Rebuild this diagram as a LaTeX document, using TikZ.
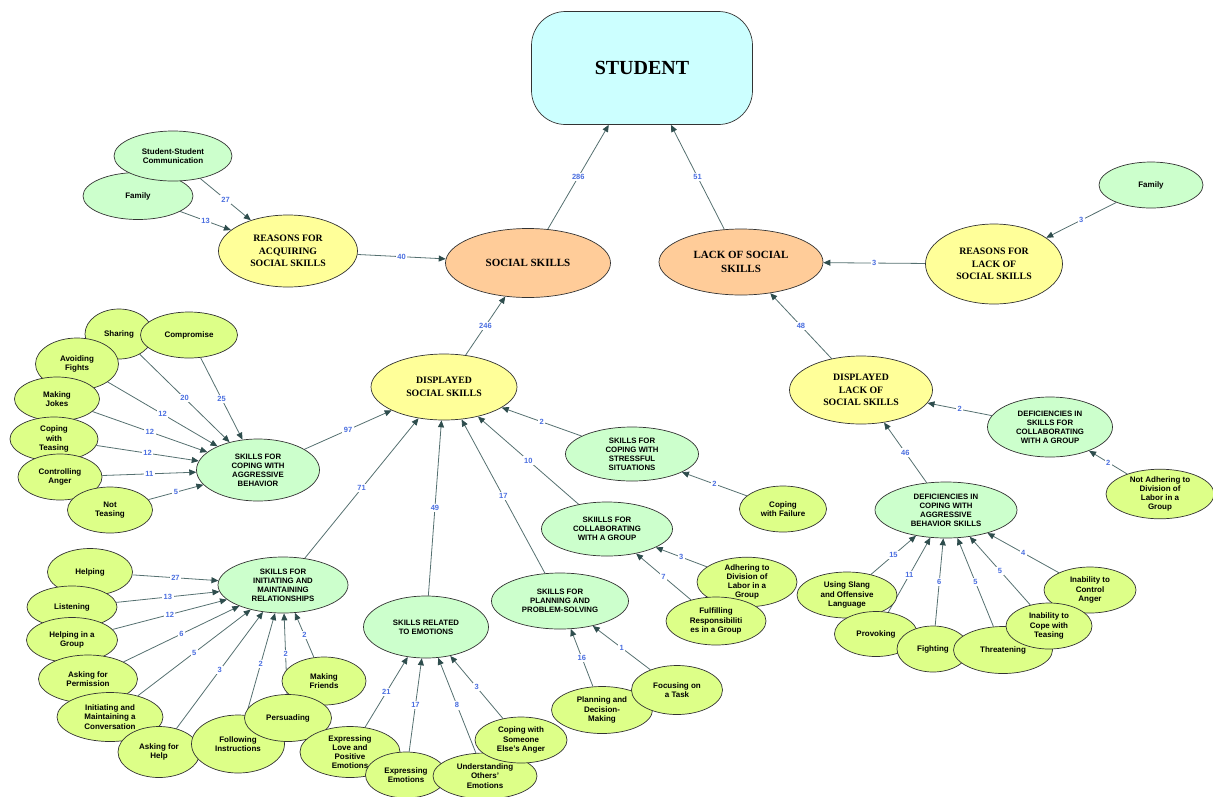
\documentclass[tikz,border=0pt]{standalone}
\usepackage{fontspec}
\setmainfont{Liberation Serif}
\setsansfont{Liberation Sans}
\usepackage{xcolor}
\usetikzlibrary{
    arrows.meta,
    shapes.geometric,
    backgrounds
}
\definecolor{cyanbox}{HTML}{CCFFFF}
\definecolor{hubfill}{HTML}{FFCC99}
\definecolor{midfill}{HTML}{FFFF99}
\definecolor{catfill}{HTML}{CCFFCC}
\definecolor{leaffill}{HTML}{DDFF88}
\definecolor{nodeline}{HTML}{333333}
\definecolor{linkgray}{HTML}{557070}
\definecolor{tipteal}{HTML}{2E4D4D}
\definecolor{numblue}{HTML}{4A6EE0}

\begin{document}
\begin{tikzpicture}[x=1pt, y=-1pt,
    sz/.style 2 args={minimum width=#1pt, minimum height=#2pt},
    bub/.style={ellipse, draw=nodeline, line width=0.7pt, inner sep=0pt, align=center},
    leafnode/.style={bub, fill=leaffill, font=\sffamily\bfseries\fontsize{8}{9.2}\selectfont},
    catnode/.style={bub, fill=catfill, font=\sffamily\bfseries\fontsize{7.8}{9}\selectfont},
    midnode/.style={bub, fill=midfill, font=\rmfamily\bfseries\fontsize{9.8}{12.5}\selectfont},
    hubnode/.style={bub, fill=hubfill, font=\rmfamily\bfseries\fontsize{11}{14}\selectfont},
    num/.style={midway, fill=white, inner sep=1.5pt, text=numblue, font=\sffamily\bfseries\fontsize{7.5}{8}\selectfont},
    conn/.style={draw=linkgray, line width=0.8pt, -{Triangle[length=7pt, width=6pt, color=tipteal]}}
]
\useasboundingbox (0,0) rectangle (1213,796);

% top of the map
\node[draw=nodeline, line width=0.7pt, fill=cyanbox, rounded corners=34pt, sz={221}{113},
      font=\rmfamily\bfseries\fontsize{20}{24}\selectfont] (st) at (642,68) {STUDENT};
\node[hubnode, sz={165}{69}] (ss) at (528,263) {SOCIAL SKILLS};
\node[hubnode, sz={164}{66}] (lss) at (741,262) {LACK OF SOCIAL\\SKILLS};
\node[midnode, sz={139}{72}] (rac) at (288,251) {REASONS FOR\\ACQUIRING\\SOCIAL SKILLS};
\node[catnode, font=\sffamily\bfseries\fontsize{8}{9.2}\selectfont, sz={110}{47}] (faml) at (138,196) {Family};
\node[catnode, font=\sffamily\bfseries\fontsize{8}{9.2}\selectfont, sz={118}{50}] (ssc) at (173,156) {Student-Student\\Communication};
\node[catnode, font=\sffamily\bfseries\fontsize{8}{9.2}\selectfont, sz={104}{46}] (famr) at (1151,185) {Family};
\node[midnode, sz={137}{80}] (rlss) at (994,264) {REASONS FOR\\LACK OF\\SOCIAL SKILLS};
\node[midnode, sz={146}{66}] (dss) at (444,387) {DISPLAYED\\SOCIAL SKILLS};
\node[midnode, sz={143}{68}] (dlss) at (861,390) {DISPLAYED\\LACK OF\\SOCIAL SKILLS};

% coping with aggressive behavior
\node[catnode, sz={123}{62}] (agg) at (258,470) {SKILLS FOR\\COPING WITH\\AGGRESSIVE\\BEHAVIOR};
\node[leafnode, sz={68}{50}] (shar) at (119,334) {Sharing};
\node[leafnode, sz={97}{46}] (comp) at (189,335) {Compromise};
\node[leafnode, sz={83}{52}] (avf) at (77,364) {Avoiding\\Fights};
\node[leafnode, sz={85}{44}] (jok) at (57,399) {Making\\Jokes};
\node[leafnode, sz={88}{44}] (cwt) at (54,439) {Coping\\with\\Teasing};
\node[leafnode, sz={84}{46}] (ctl) at (60,477) {Controlling\\Anger};
\node[leafnode, sz={85}{46}] (ntz) at (110,510) {Not\\Teasing};

% relationships
\node[catnode, sz={130}{56}] (rel) at (283,585) {SKILLS FOR\\INITIATING AND\\MAINTAINING\\RELATIONSHIPS};
\node[leafnode, sz={85}{47}] (hlp) at (90,572) {Helping};
\node[leafnode, sz={90}{42}] (lst) at (72,607) {Listening};
\node[leafnode, sz={91}{45}] (hig) at (72,640) {Helping in a\\Group};
\node[leafnode, sz={99}{48}] (afp) at (88,679) {Asking for\\Permission};
\node[leafnode, sz={106}{49}] (imc) at (110,717) {Initiating and\\Maintaining a\\Conversation};
\node[leafnode, sz={82}{51}] (afh) at (159,752) {Asking for\\Help};
\node[leafnode, sz={93}{58}] (fin) at (238,744) {Following\\Instructions};
\node[leafnode, sz={84}{48}] (mkf) at (324,681) {Making\\Friends};
\node[leafnode, sz={87}{47}] (prs) at (288,718) {Persuading};

% emotions
\node[catnode, sz={125}{62}] (emo) at (426,627) {SKILLS RELATED\\TO EMOTIONS};
\node[leafnode, sz={100}{51}] (elp) at (350,752) {Expressing\\Love and\\Positive\\Emotions};
\node[leafnode, sz={81}{46}] (exe) at (406,775) {Expressing\\Emotions};
\node[leafnode, sz={104}{46}] (uoe) at (485,776) {Understanding\\Others'\\Emotions};
\node[leafnode, sz={92}{46}] (csa) at (521,740) {Coping with\\Someone\\Else's Anger};

% planning
\node[catnode, sz={137}{56}] (pps) at (560,601) {SKILLS FOR\\PLANNING AND\\PROBLEM-SOLVING};
\node[leafnode, sz={101}{47}] (pdm) at (602,710) {Planning and\\Decision-\\Making};
\node[leafnode, sz={91}{49}] (fot) at (677,690) {Focusing on\\a Task};

% collaborating and stress
\node[catnode, sz={133}{54}] (str) at (632,454) {SKILLS FOR\\COPING WITH\\STRESSFUL\\SITUATIONS};
\node[catnode, sz={131}{54}] (col) at (607,529) {SKIILLS FOR\\COLLABORATING\\WITH A GROUP};
\node[leafnode, sz={87}{46}] (cwf) at (783,509) {Coping\\with Failure};
\node[leafnode, sz={100}{48}] (adh) at (747,582) {Adhering to\\Division of\\Labor in a\\Group};
\node[leafnode, sz={100}{48}] (ful) at (716,621) {Fulfilling\\Responsibiliti\\es in a Group};

% lack side
\node[catnode, sz={125}{60}] (dcol) at (1050,427) {DEFICIENCIES IN\\SKILLS FOR\\COLLABORATING\\WITH A GROUP};
\node[leafnode, sz={108}{47}] (nad) at (1160,494) {Not Adhering to\\Division of\\Labor in a\\Group};
\node[catnode, sz={142}{56}] (dagg) at (946,510) {DEFICIENCIES IN\\COPING WITH\\AGGRESSIVE\\BEHAVIOR SKILLS};
\node[leafnode, sz={100}{46}] (usl) at (847,595) {Using Slang\\and Offensive\\Language};
\node[leafnode, sz={83}{45}] (prv) at (876,634) {Provoking};
\node[leafnode, sz={72}{46}] (fgt) at (933,649) {Fighting};
\node[leafnode, sz={99}{47}] (thr) at (1003,650) {Threatening};
\node[leafnode, sz={92}{46}] (ica) at (1090,590) {Inability to\\Control\\Anger};
\node[leafnode, sz={86}{46}] (ict) at (1049,626) {Inability to\\Cope with\\Teasing};

\begin{scope}[on background layer]
\draw
(ss) edge[conn] node[num] {286} (st)
(lss) edge[conn] node[num] {51} (st)
(rac) edge[conn] node[num] {40} (ss)
(ssc) edge[conn] node[num] {27} (rac)
(faml) edge[conn] node[num] {13} (rac)
(rlss) edge[conn] node[num] {3} (lss)
(famr) edge[conn] node[num] {3} (rlss)
(dss) edge[conn] node[num] {246} (ss)
(dlss) edge[conn] node[num] {48} (lss)
(agg) edge[conn] node[num] {97} (dss)
(shar) edge[conn] node[num] {20} (agg)
(comp) edge[conn] node[num] {25} (agg)
(avf) edge[conn] node[num] {12} (agg)
(jok) edge[conn] node[num] {12} (agg)
(cwt) edge[conn] node[num] {12} (agg)
(ctl) edge[conn] node[num] {11} (agg)
(ntz) edge[conn] node[num] {5} (agg)
(rel) edge[conn] node[num] {71} (dss)
(hlp) edge[conn] node[num] {27} (rel)
(lst) edge[conn] node[num] {13} (rel)
(hig) edge[conn] node[num] {12} (rel)
(afp) edge[conn] node[num] {6} (rel)
(imc) edge[conn] node[num] {5} (rel)
(afh) edge[conn] node[num] {3} (rel)
(fin) edge[conn] node[num] {2} (rel)
(prs) edge[conn] node[num] {2} (rel)
(mkf) edge[conn] node[num] {2} (rel)
(emo) edge[conn] node[num] {49} (dss)
(elp) edge[conn] node[num] {21} (emo)
(exe) edge[conn] node[num] {17} (emo)
(uoe) edge[conn] node[num] {8} (emo)
(csa) edge[conn] node[num] {3} (emo)
(pps) edge[conn] node[num] {17} (dss)
(pdm) edge[conn] node[num] {16} (pps)
(fot) edge[conn] node[num] {1} (pps)
(col) edge[conn] node[num] {10} (dss)
(adh) edge[conn] node[num] {3} (col)
(ful) edge[conn] node[num] {7} (col)
(str) edge[conn] node[num] {2} (dss)
(cwf) edge[conn] node[num] {2} (str)
(dagg) edge[conn] node[num] {46} (dlss)
(dcol) edge[conn] node[num] {2} (dlss)
(nad) edge[conn] node[num] {2} (dcol)
(usl) edge[conn] node[num] {15} (dagg)
(prv) edge[conn] node[num] {11} (dagg)
(fgt) edge[conn] node[num] {6} (dagg)
(thr) edge[conn] node[num] {5} (dagg)
(ict) edge[conn] node[num] {5} (dagg)
(ica) edge[conn] node[num] {4} (dagg);
\end{scope}
\end{tikzpicture}
\end{document}
